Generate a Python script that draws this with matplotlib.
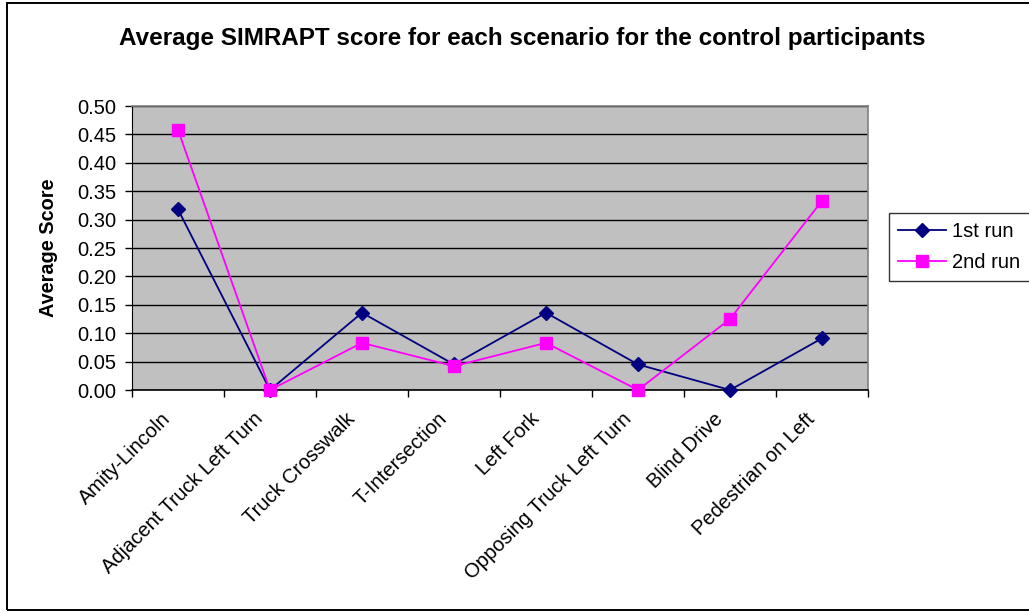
import matplotlib
matplotlib.use("Agg")
import matplotlib.pyplot as plt
from matplotlib.patches import Rectangle

scenarios = ["Amity-Lincoln", "Adjacent Truck Left Turn", "Truck Crosswalk",
             "T-Intersection", "Left Fork", "Opposing Truck Left Turn",
             "Blind Drive", "Pedestrian on Left"]
run1 = [0.318, 0.0, 0.136, 0.045, 0.136, 0.045, 0.0, 0.091]
run2 = [0.458, 0.0, 0.083, 0.042, 0.083, 0.0, 0.125, 0.333]
yticks = [0.00, 0.05, 0.10, 0.15, 0.20, 0.25, 0.30, 0.35, 0.40, 0.45, 0.50]

plt.rcParams['font.family'] = ['Liberation Sans', 'DejaVu Sans']

W, H = 1029, 611
fig = plt.figure(figsize=(W / 100, H / 100), dpi=100)
fig.patch.set_facecolor("white")

# outer chart border (right edge runs past the canvas)
fig.add_artist(Rectangle((7 / W, 1 - 610 / H), 1040 / W, 607 / H, transform=fig.transFigure,
                         fill=False, edgecolor="black", linewidth=1.4))

ax = fig.add_axes([132 / W, 1 - 390 / H, (868 - 132) / W, (390 - 106) / H])
ax.set_facecolor("#C0C0C0")

x = list(range(len(scenarios)))
ax.plot(x, run1, color="#000080", marker="D", markersize=7, linewidth=1.3,
        label="1st run", zorder=3, clip_on=False)
ax.plot(x, run2, color="#FF00FF", marker="s", markersize=8, linewidth=1.3,
        label="2nd run", zorder=3, clip_on=False)

ax.set_xlim(-0.5, len(scenarios) - 0.5)
ax.set_ylim(0, 0.5)
ax.set_yticks(yticks)
ax.set_yticklabels([f"{v:.2f}" for v in yticks], fontsize=14.5)
ax.yaxis.grid(True, color="black", linewidth=1.0)
ax.set_axisbelow(True)

# category ticks sit at the boundaries between categories
ax.set_xticks([i - 0.5 for i in range(len(scenarios) + 1)])
ax.set_xticklabels([])
ax.tick_params(axis="x", direction="out", length=5, width=1, color="black")
ax.tick_params(axis="y", direction="out", length=5, width=1, color="black", pad=6)
for i, name in enumerate(scenarios):
    ax.annotate(name, xy=(i, 0), xycoords=("data", "axes fraction"),
                xytext=(-12, -14), textcoords="offset points",
                rotation=45, ha="right", va="top", fontsize=14.5,
                rotation_mode="anchor")

for side in ("top", "right"):
    ax.spines[side].set_color("#808080")
    ax.spines[side].set_linewidth(1.2)
ax.spines["left"].set_color("black")
ax.spines["bottom"].set_color("black")
ax.spines["bottom"].set_linewidth(1.2)

ax.set_ylabel("Average Score", fontsize=14.3, fontweight="bold", labelpad=14)

fig.text(522 / W, 1 - 38 / H,
         "Average SIMRAPT score for each scenario for the control participants",
         ha="center", va="center", fontsize=17.5, fontweight="bold")

leg = fig.legend(loc="center left", bbox_to_anchor=(889 / W, 1 - 247 / H),
                 fontsize=14.5, frameon=True, fancybox=False, edgecolor="black",
                 handlelength=2.4, handletextpad=0.3, borderpad=0.45, labelspacing=0.6,
                 borderaxespad=0)
leg.get_frame().set_linewidth(1.0)

fig.savefig("out.png", dpi=100, facecolor="white")
